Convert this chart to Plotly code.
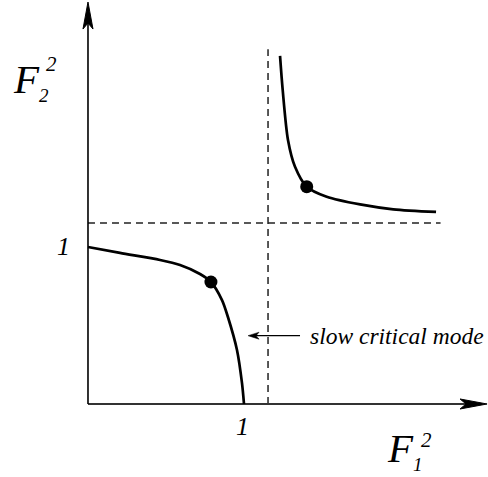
import plotly.graph_objects as go

# Branches of the stability boundary in the (F1^2, F2^2) plane
lower_f1 = [0.0, 0.205, 0.462, 0.590, 0.718, 0.788, 0.859, 0.897, 0.955, 0.987, 1.0]
lower_f2 = [1.0, 0.962, 0.917, 0.885, 0.828, 0.777, 0.662, 0.554, 0.344, 0.134, 0.0]
upper_f1 = [1.231, 1.248, 1.282, 1.327, 1.402, 1.530, 1.744, 1.957, 2.231]
upper_f2 = [2.217, 2.0, 1.682, 1.511, 1.384, 1.320, 1.271, 1.240, 1.223]

# Marked operating points on each branch
marked_f1 = [0.788, 1.402]
marked_f2 = [0.777, 1.384]

# Asymptotes of the upper branch
critical_f1 = 1.154
critical_f2 = 1.153
asymptote_end = 2.26

# Axis extents and tick labels
axis_end_x = 2.558
axis_end_y = 2.56
unit_tick = "1"
label_x_base = "F<sub><span style='font-size:19px'>1</span></sub>"
label_y_base = "F<sub><span style='font-size:19px'>2</span></sub>"
label_power = "2"
mode_label = "slow critical mode"
mode_f2 = 0.435
mode_arrow_tip = 1.026
mode_arrow_tail = 1.359

W, H = 488, 477
x_range = [-0.564, 2.564]
y_range = [-0.465, 2.573]
px_x = W / (x_range[1] - x_range[0])
px_y = H / (y_range[1] - y_range[0])

serif = dict(family="Liberation Serif, Times New Roman, serif", color="black", style="italic")

fig = go.Figure()

# Dashed asymptotes
dash_line = dict(color="#222222", width=1.5, dash="7px,5px")
fig.add_trace(go.Scatter(x=[critical_f1, critical_f1], y=[0, asymptote_end], mode="lines",
                         line=dash_line, hoverinfo="skip"))
fig.add_trace(go.Scatter(x=[0, asymptote_end], y=[critical_f2, critical_f2], mode="lines",
                         line=dash_line, hoverinfo="skip"))

# Axes
fig.add_trace(go.Scatter(x=[0, axis_end_x - 20 / px_x], y=[0, 0], mode="lines",
                         line=dict(color="#333333", width=2), hoverinfo="skip"))
fig.add_trace(go.Scatter(x=[0, 0], y=[0, axis_end_y - 20 / px_y], mode="lines",
                         line=dict(color="black", width=1.6), hoverinfo="skip"))


def stealth_head(tip_x, tip_y, dx, dy, length, half, notch):
    # dx, dy: unit direction in pixel space
    nx, ny = -dy, dx
    bx = tip_x - dx * length / px_x
    by = tip_y - dy * length / px_y
    xs = [tip_x,
          bx + nx * half / px_x,
          tip_x - dx * (length - notch) / px_x,
          bx - nx * half / px_x,
          tip_x]
    ys = [tip_y,
          by + ny * half / px_y,
          tip_y - dy * (length - notch) / px_y,
          by - ny * half / px_y,
          tip_y]
    return xs, ys


for (tx, ty, dx, dy) in [(axis_end_x, 0, 1, 0), (0, axis_end_y, 0, 1)]:
    hx, hy = stealth_head(tx, ty, dx, dy, 27, 5, 6)
    fig.add_trace(go.Scatter(x=hx, y=hy, mode="lines", fill="toself", fillcolor="black",
                             line=dict(color="black", width=1), hoverinfo="skip"))

# Curves
for xs, ys in [(lower_f1, lower_f2), (upper_f1, upper_f2)]:
    fig.add_trace(go.Scatter(x=xs, y=ys, mode="lines",
                             line=dict(color="black", width=2.7, shape="spline", smoothing=0.8),
                             hoverinfo="skip"))

# Operating points
fig.add_trace(go.Scatter(x=marked_f1, y=marked_f2, mode="markers",
                         marker=dict(color="black", size=13), hoverinfo="skip"))

# Slow critical mode pointer
hx, hy = stealth_head(mode_arrow_tip, mode_f2, -1, 0, 11, 3.5, 3)
fig.add_trace(go.Scatter(x=[mode_arrow_tail, mode_arrow_tip + 6 / px_x], y=[mode_f2, mode_f2], mode="lines",
                         line=dict(color="black", width=1.2), hoverinfo="skip"))
fig.add_trace(go.Scatter(x=hx, y=hy, mode="lines", fill="toself", fillcolor="black",
                         line=dict(color="black", width=0.5), hoverinfo="skip"))

annotations = [
    dict(x=mode_arrow_tail + 8 / px_x, y=mode_f2, text=mode_label, xanchor="left", yanchor="middle",
         font=dict(size=23.5, **serif)),
    dict(x=1.0 - 2 / px_x, y=-0.146, text=unit_tick, xanchor="center", yanchor="middle",
         font=dict(size=26, **serif)),
    dict(x=-0.16, y=1.006, text=unit_tick, xanchor="center", yanchor="middle",
         font=dict(size=26, **serif)),
    # F2^2 axis label
    dict(x=-0.495, y=2.06, text=label_y_base, xanchor="left", yanchor="middle",
         font=dict(size=41, **serif)),
    dict(x=-0.232, y=2.165, text=label_power, xanchor="center", yanchor="middle",
         font=dict(size=21, **serif)),
    # F1^2 axis label
    dict(x=1.905, y=-0.29, text=label_x_base, xanchor="left", yanchor="middle",
         font=dict(size=41, **serif)),
    dict(x=2.170, y=-0.228, text=label_power, xanchor="center", yanchor="middle",
         font=dict(size=21, **serif)),
]
for a in annotations:
    a.update(xref="x", yref="y", showarrow=False)

fig.update_layout(
    width=W, height=H,
    margin=dict(l=0, r=0, t=0, b=0),
    paper_bgcolor="white", plot_bgcolor="white",
    showlegend=False,
    xaxis=dict(range=x_range, visible=False, fixedrange=True),
    yaxis=dict(range=y_range, visible=False, fixedrange=True),
    annotations=annotations,
)

fig.write_html("out.html")
